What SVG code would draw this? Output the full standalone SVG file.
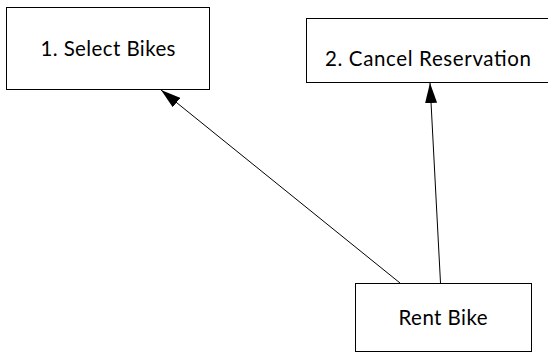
<svg xmlns="http://www.w3.org/2000/svg" width="548" height="354" viewBox="0 0 548 354">
  <style>
    .box { fill: #ffffff; stroke: #000000; stroke-width: 1; }
    .label { font-family: Lato, "Open Sans", "Liberation Sans", sans-serif; font-size: 20.5px; fill: #000000; text-anchor: middle; }
    .edge { stroke: #000000; stroke-width: 1; fill: none; marker-end: url(#arrow); }
  </style>
  <defs>
    <marker id="arrow" viewBox="0 0 20 12" refX="20" refY="6" markerWidth="20" markerHeight="12" markerUnits="userSpaceOnUse" orient="auto">
      <path d="M0,0 L20,6 L0,12 z" fill="#000000"/>
    </marker>
  </defs>
  <rect width="548" height="354" fill="#ffffff"/>

  <g id="select-bikes">
    <rect class="box" x="6.5" y="7.5" width="203" height="82"/>
    <text class="label" x="108" y="56" textLength="135">1. Select Bikes</text>
  </g>

  <g id="cancel-reservation">
    <rect class="box" x="306.5" y="18.5" width="243" height="64"/>
    <text class="label" x="428" y="66" textLength="206">2. Cancel Reservation</text>
  </g>

  <g id="rent-bike">
    <rect class="box" x="355.5" y="283.5" width="176" height="68"/>
    <text class="label" x="443" y="325" textLength="89">Rent Bike</text>
  </g>

  <g id="connectors">
    <line class="edge" x1="400" y1="283" x2="161" y2="90"/>
    <line class="edge" x1="440.5" y1="283" x2="430" y2="83"/>
  </g>
</svg>
